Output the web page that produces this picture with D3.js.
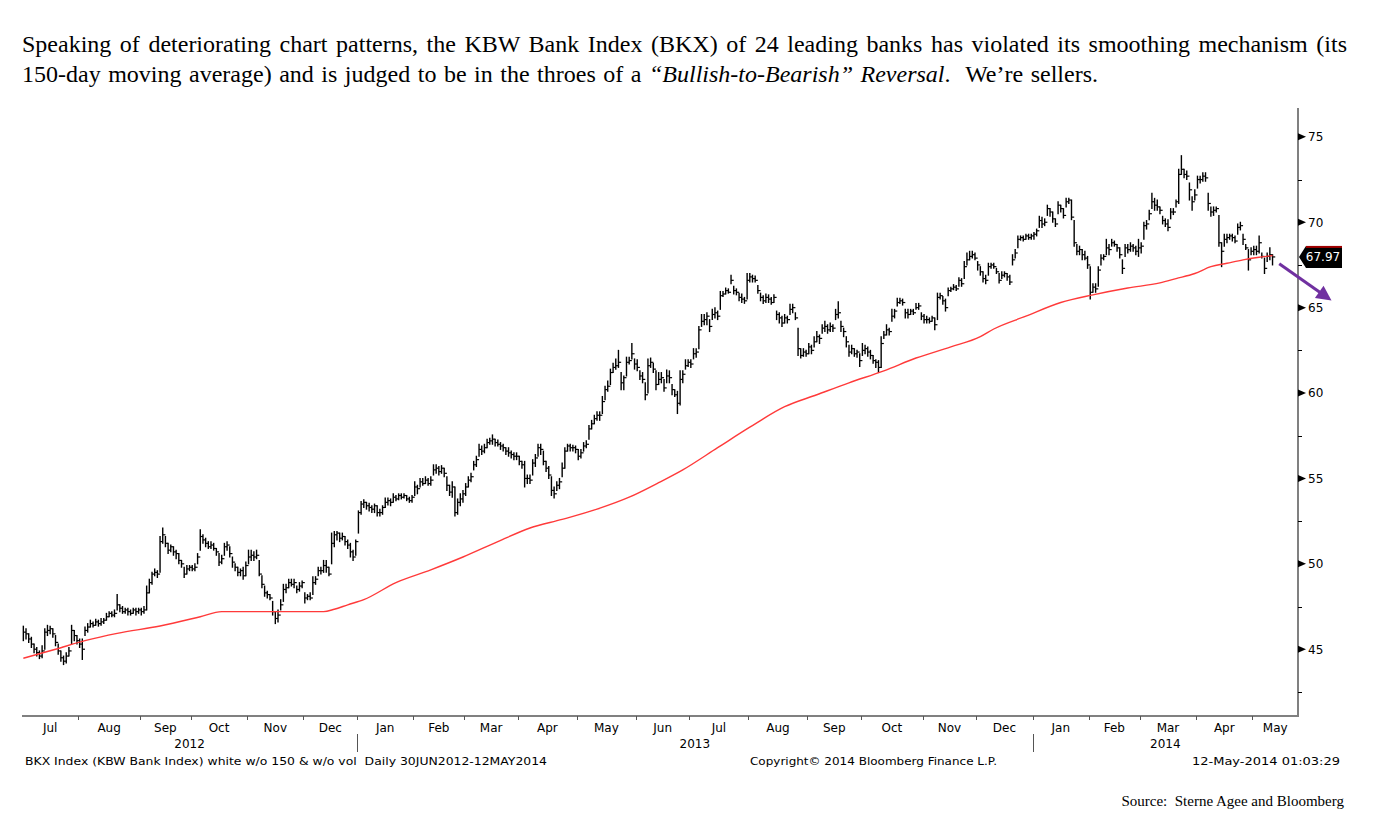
<!DOCTYPE html>
<html><head><meta charset="utf-8">
<script src="https://cdn.jsdelivr.net/npm/d3@7"></script>
<style>body{margin:0;background:#fff;} svg{display:block;} text{white-space:pre;}</style>
</head><body><svg id="c" width="1383" height="820"></svg>
<script>
// ---------- data ----------
const titleLine1 = "Speaking of deteriorating chart patterns, the KBW Bank Index (BKX) of 24 leading banks has violated its smoothing mechanism (its";
const titleLine2a = "150-day moving average) and is judged to be in the throes of a ";
const titleLine2b = "\u201cBullish-to-Bearish\u201d Reversal";
const titleLine2c = ".  We\u2019re sellers.";
const monthLabels = ["Jul","Aug","Sep","Oct","Nov","Dec","Jan","Feb","Mar","Apr","May","Jun","Jul","Aug","Sep","Oct","Nov","Dec","Jan","Feb","Mar","Apr","May"];
const monthDays = [21,23,19,21,21,20,21,19,20,22,22,20,22,22,20,23,20,21,21,19,21,21,8];
const yearLabels = ["2012","2013","2014"];
const yearMonthCounts = [6,12,5];
const yTicks = [45,50,55,60,65,70,75];
const yMinorTicks = [42.5,47.5,52.5,57.5,62.5,67.5,72.5];
const lastValue = 67.97;
const footerLeft = "BKX Index (KBW Bank Index) white w/o 150 & w/o vol  Daily 30JUN2012-12MAY2014";
const footerMid = "Copyright\u00a9 2014 Bloomberg Finance L.P.";
const footerRight = "12-May-2014 01:03:29";
const sourceText = "Source:  Sterne Agee and Bloomberg";

const closes = [
46.0,45.9,45.6,45.3,45.0,44.8,44.6,44.9,46.0,46.1,
46.2,45.9,45.4,44.9,44.5,44.3,44.6,44.9,46.1,45.8,
45.5,45.3,45.0,46.1,46.3,46.5,46.4,46.6,46.5,46.6,
46.7,46.9,47.1,47.0,47.1,47.6,47.4,47.2,47.3,47.2,
47.1,47.3,47.2,47.3,47.2,47.3,48.3,48.9,49.4,49.5,
49.4,51.3,51.7,51.2,50.8,51.0,50.7,50.6,50.2,50.0,
49.4,49.7,49.8,49.7,49.8,50.4,51.6,51.4,51.2,51.0,
51.1,50.9,50.7,50.1,50.3,51.0,51.1,50.6,50.1,49.8,
49.5,49.6,49.3,49.9,50.4,50.5,50.4,50.5,49.4,48.8,
48.3,48.2,48.0,47.2,46.8,47.0,47.6,48.5,48.6,48.9,
48.8,48.9,48.5,48.7,48.9,48.0,48.1,48.0,48.9,49.1,
49.6,49.6,49.9,49.8,49.4,51.2,51.7,51.8,51.5,51.6,
51.3,51.1,50.7,50.4,51.3,53.0,53.5,53.6,53.4,53.3,
53.2,53.4,53.0,53.0,53.3,53.6,53.7,53.6,53.9,53.8,
54.0,53.9,54.0,53.8,53.7,53.9,54.5,54.4,54.8,54.7,
54.9,54.7,54.9,55.5,55.6,55.4,55.6,55.3,54.6,54.2,
54.5,53.0,53.6,53.8,54.1,54.5,54.9,55.1,55.8,56.1,
56.7,56.6,56.8,57.1,57.2,57.3,57.1,57.0,56.9,56.8,
56.6,56.5,56.4,56.3,56.3,56.0,55.8,55.0,55.0,54.9,
55.9,56.2,56.8,56.7,56.0,55.6,55.2,54.3,54.1,54.6,
54.8,55.6,56.6,56.9,56.8,56.8,56.7,56.3,56.5,56.9,
57.0,57.9,58.2,58.5,58.7,58.7,59.5,60.2,60.4,61.2,
61.5,61.6,61.8,60.6,60.9,61.8,61.9,62.3,61.7,61.5,
61.0,60.8,59.9,61.6,61.8,61.4,60.5,60.8,60.9,60.3,
61.0,60.9,60.2,59.9,59.4,60.8,61.1,61.6,61.8,61.7,
62.3,62.4,63.7,64.2,64.3,64.5,63.9,64.6,64.7,64.5,
65.7,65.8,66.0,65.9,66.6,66.0,65.9,65.6,65.5,65.4,
66.6,66.8,66.7,66.6,66.0,65.6,65.4,65.6,65.5,65.3,
65.6,64.6,64.4,64.1,64.4,64.3,64.9,65.0,64.4,62.6,
62.2,62.4,62.3,62.7,62.5,63.0,63.3,63.2,63.8,63.9,
63.7,63.9,63.8,64.6,64.7,63.9,63.6,63.0,62.4,62.6,
62.3,62.4,61.9,62.5,62.6,62.4,62.2,61.9,61.8,61.5,
62.9,63.4,63.7,63.6,64.5,64.8,65.3,65.4,65.3,64.7,
64.6,64.8,64.7,65.0,65.1,64.5,64.3,64.3,64.2,64.4,
64.0,65.6,65.7,65.4,65.0,66.0,66.1,66.2,66.1,66.6,
66.4,67.4,67.8,68.0,68.1,67.9,67.5,67.1,66.7,66.6,
67.4,67.5,67.4,67.1,66.6,66.9,67.0,66.8,66.5,67.8,
68.2,69.0,69.1,69.0,69.2,69.1,69.2,69.3,69.5,70.1,
69.9,70.0,70.8,70.6,70.2,69.9,71.0,70.8,70.4,71.2,
71.3,70.3,68.8,68.3,68.4,68.1,67.9,67.5,65.9,66.2,
66.1,67.2,67.9,68.0,68.5,68.4,68.8,68.7,68.5,68.1,
67.3,68.5,68.4,68.6,68.5,68.3,68.5,68.6,69.8,69.9,
70.5,71.2,71.0,70.9,70.7,70.1,69.9,69.7,70.6,70.6,
71.2,72.8,73.1,72.8,72.7,71.9,71.2,71.6,72.5,72.5,
72.7,72.6,71.1,70.6,70.7,70.8,68.8,68.3,69.0,69.1,
69.2,69.1,68.9,69.7,69.8,69.0,68.5,67.8,68.3,68.4,
68.3,68.8,68.0,67.3,68.0,68.1,67.97];

const highs = [
46.35,46.2,45.9,45.7,45.3,45.1,44.9,45.2,46.2,46.4,
46.35,46.2,45.8,45.3,44.9,44.6,44.8,45.1,46.4,46.1,
45.8,45.6,45.6,46.3,46.5,46.7,46.6,46.75,46.7,46.8,
46.8,47.1,47.2,47.2,47.3,48.2,47.6,47.5,47.4,47.4,
47.3,47.4,47.4,47.4,47.4,47.5,48.7,49.1,49.5,49.7,
49.6,51.6,52.1,51.6,51.2,51.1,51.0,50.8,50.6,50.2,
49.8,49.9,49.9,49.9,50.0,50.6,52.0,51.7,51.5,51.3,
51.3,51.2,50.9,50.6,50.5,51.2,51.3,51.0,50.4,50.0,
49.8,49.7,49.8,50.1,50.8,50.8,50.7,50.8,50.2,49.3,
48.7,48.4,48.2,47.8,47.2,47.3,47.9,48.8,48.8,49.1,
49.1,49.1,48.7,48.9,49.0,48.3,48.2,48.3,49.25,49.25,
49.8,49.8,50.2,50.2,49.8,51.8,51.9,51.9,51.8,51.8,
51.6,51.4,51.2,50.8,51.4,53.1,53.65,53.75,53.6,53.55,
53.4,53.5,53.4,53.2,53.4,53.85,53.85,53.8,54.1,54.0,
54.1,54.1,54.1,54.0,53.9,54.0,54.8,54.6,55.0,55.0,
55.1,55.0,55.1,55.8,55.8,55.7,55.75,55.6,55.1,54.6,
54.8,54.5,53.8,54.1,54.3,54.7,55.1,55.3,56.0,56.3,
57.0,56.9,57.0,57.3,57.35,57.55,57.3,57.25,57.1,57.0,
56.8,56.8,56.6,56.5,56.5,56.3,56.0,56.0,55.2,55.2,
56.1,56.4,57.0,57.0,56.6,56.0,55.7,55.1,54.5,54.8,
55.0,55.9,56.8,57.0,57.0,56.95,56.9,56.7,56.7,57.1,
57.2,58.1,58.4,58.7,58.9,58.9,59.8,60.4,60.7,61.4,
61.75,62.0,62.5,61.2,61.0,62.1,62.1,62.9,62.0,61.95,
61.3,61.2,60.6,62.0,62.05,61.75,61.3,61.2,61.2,60.8,
61.35,61.3,60.5,60.2,60.1,61.3,61.3,61.95,61.95,61.95,
62.6,62.6,63.9,64.6,64.6,64.7,64.3,64.9,65.0,64.8,
65.95,65.95,66.15,66.1,66.9,66.25,66.1,65.85,65.8,65.6,
67.0,67.0,66.9,66.85,66.3,65.85,65.7,65.8,65.75,65.6,
65.75,64.8,64.7,64.5,64.6,64.5,65.2,65.2,64.7,63.8,
62.6,62.6,62.5,62.9,62.8,63.3,63.6,63.4,64.0,64.2,
64.0,64.1,64.0,64.9,65.35,64.2,63.8,63.3,62.8,62.8,
62.6,62.5,62.3,62.9,62.8,62.7,62.5,62.2,61.95,61.9,
63.3,63.6,64.0,63.8,64.9,64.9,65.55,65.55,65.5,64.9,
64.9,64.9,64.9,65.25,65.25,64.7,64.6,64.5,64.4,64.5,
64.4,65.85,65.85,65.65,65.5,66.15,66.2,66.35,66.3,66.75,
66.7,67.7,68.2,68.3,68.3,68.2,67.7,67.4,67.1,66.9,
67.6,67.6,67.6,67.3,67.0,67.1,67.1,67.0,66.9,68.1,
68.4,69.2,69.2,69.2,69.3,69.3,69.3,69.4,69.6,70.35,
70.3,70.2,71.0,70.8,70.6,70.2,71.2,71.0,70.8,71.4,
71.4,71.3,70.1,68.7,68.6,68.4,68.3,68.0,67.4,66.4,
66.4,67.4,68.1,68.1,69.0,68.7,69.0,68.9,68.7,68.5,
67.8,68.7,68.7,68.8,68.7,68.6,69.0,68.8,70.0,70.1,
70.7,71.7,71.4,71.3,70.9,70.35,70.2,70.15,70.8,70.8,
71.3,73.1,73.9,73.1,73.0,72.3,71.5,71.9,72.7,72.7,
72.9,72.9,71.7,70.9,70.9,70.9,70.4,68.8,69.3,69.3,
69.3,69.3,69.2,69.9,70.0,69.3,68.7,68.4,68.5,68.6,
68.6,69.2,68.2,67.9,68.2,68.5,68.1];

const lows = [
45.5,45.6,45.4,45.1,44.8,44.6,44.45,44.5,45.0,45.8,
45.9,45.7,45.2,44.7,44.3,44.1,44.2,44.6,45.3,45.5,
45.3,45.1,44.4,45.8,46.0,46.3,46.3,46.4,46.35,46.4,
46.5,46.7,46.9,46.9,46.9,47.3,47.2,47.1,47.1,47.0,
47.0,47.1,47.0,47.1,47.0,47.1,47.3,48.3,48.8,49.3,
49.2,49.5,51.2,51.0,50.6,50.7,50.5,50.3,50.0,49.8,
49.2,49.4,49.6,49.6,49.6,50.0,50.8,51.2,51.0,50.9,
50.9,50.8,50.5,49.9,50.0,50.5,50.8,50.4,49.8,49.6,
49.3,49.3,49.1,49.3,50.0,50.2,50.2,50.3,49.3,48.6,
48.1,48.0,47.9,47.0,46.5,46.6,47.3,47.8,48.3,48.6,
48.7,48.6,48.3,48.4,48.6,47.7,47.9,47.9,48.2,48.8,
49.3,49.4,49.5,49.5,49.3,50.0,51.0,51.4,51.3,51.4,
51.1,50.9,50.4,50.2,50.5,51.8,52.9,53.3,53.2,53.1,
53.0,53.0,52.8,52.8,52.9,53.3,53.45,53.4,53.6,53.7,
53.75,53.8,53.85,53.7,53.6,53.6,54.0,54.1,54.5,54.6,
54.7,54.6,54.6,55.2,55.3,55.2,55.3,55.1,54.3,54.0,
53.9,52.8,52.9,53.4,53.6,54.0,54.5,54.8,55.5,55.7,
56.3,56.4,56.5,56.8,57.0,57.0,56.9,56.9,56.7,56.6,
56.4,56.3,56.2,56.1,56.1,55.8,55.6,54.5,54.7,54.7,
55.2,55.7,56.3,56.4,55.8,55.4,55.0,54.0,53.85,54.3,
54.4,55.1,55.6,56.6,56.6,56.6,56.5,56.1,56.2,56.6,
56.8,57.3,57.9,58.2,58.4,58.4,58.8,59.6,60.1,60.5,
61.2,61.4,61.5,60.2,60.2,61.0,61.7,62.0,61.4,61.3,
60.8,60.6,59.6,60.0,61.5,61.2,60.2,60.5,60.6,60.1,
60.6,60.6,59.9,59.8,58.8,59.3,60.6,61.4,61.55,61.5,
62.0,62.1,62.6,63.9,64.0,64.0,63.6,64.3,64.4,64.3,
64.9,65.65,65.8,65.85,66.4,65.8,65.75,65.4,65.3,65.25,
65.5,66.5,66.5,66.5,65.85,65.4,65.25,65.3,65.3,65.2,
65.3,64.3,64.1,63.9,64.1,64.1,64.6,64.7,64.3,62.2,
62.05,62.15,62.15,62.3,62.3,62.7,63.0,62.9,63.5,63.6,
63.5,63.6,63.6,64.3,64.4,63.6,63.3,62.7,62.15,62.3,
62.15,62.1,61.55,62.2,62.3,62.15,62.0,61.75,61.5,61.2,
61.5,63.2,63.4,63.4,64.2,64.4,65.1,65.25,65.15,64.4,
64.4,64.6,64.6,64.9,64.9,64.3,64.1,64.1,64.1,64.2,
63.7,64.3,65.5,65.2,64.8,65.7,65.95,66.05,66.0,66.25,
66.25,66.7,67.5,67.8,67.9,67.8,67.2,66.9,66.5,66.4,
66.9,67.3,67.3,67.0,66.45,66.7,66.8,66.6,66.35,67.5,
67.9,68.5,68.95,68.9,69.0,69.0,69.0,69.0,69.2,69.7,
69.7,69.8,70.4,70.35,70.0,69.75,70.5,70.6,70.25,70.9,
71.1,70.15,68.6,68.1,68.1,67.8,67.8,67.3,65.5,65.9,
65.9,66.25,67.5,67.8,68.1,68.1,68.6,68.6,68.3,67.9,
67.0,68.0,68.2,68.3,68.3,68.1,68.0,68.2,69.0,69.6,
70.15,70.8,70.7,70.7,70.5,69.9,69.75,69.5,70.2,70.45,
70.9,71.1,72.8,72.6,72.5,71.3,70.7,71.3,72.0,72.3,
72.4,72.4,70.7,70.35,70.4,70.6,68.6,67.4,68.6,68.8,
69.0,68.9,68.8,69.3,69.55,68.7,68.4,67.2,68.1,68.1,
68.1,68.2,67.9,67.0,67.7,67.8,67.5];

// 150-day moving average, read at selected trading-day indices
const maIdx = [0,12,23,35,51,66,74,112,116,121,127,139,152,164,177,189,201,214,226,237,246,259,271,284,296,308,321,333,346,357,362,374,387,399,412,424,430,437,443,449,455,461,466];
const maVal = [44.47,45.0,45.5,45.93,46.36,46.9,47.2,47.2,47.34,47.6,47.9,48.9,49.65,50.4,51.3,52.1,52.6,53.2,53.9,54.75,55.5,56.8,58.0,59.2,59.9,60.6,61.3,62.05,62.7,63.3,63.75,64.5,65.3,65.75,66.15,66.45,66.7,67.0,67.4,67.6,67.8,67.95,68.05];

// ---------- chart ----------
const svg = d3.select("#c");
const plot = {left: 22, right: 1298, top: 108, bottom: 716};
const nSlots = 476;
const x = d3.scaleLinear().domain([-0.5, nSlots - 0.5]).range([plot.left, plot.right]);
const y = d3.scaleLinear().domain([41.09, 76.69]).range([plot.bottom, plot.top]);

// title (justified first line via word spacing)
const serif = "'Liberation Serif','Times New Roman',Times,serif";
function justify(sel, target) {
  const len = sel.node().getComputedTextLength();
  const str = sel.text();
  const spaces = (str.match(/ /g) || []).length;
  if (spaces > 0) {
    const ws = (target - len) / spaces;
    sel.attr("word-spacing", ws);
    sel.selectAll("tspan").attr("word-spacing", ws);
  }
}
const t1 = svg.append("text").attr("x", 22).attr("y", 52)
  .attr("font-family", serif).attr("font-size", 24).attr("fill", "#000")
  .text(titleLine1);
justify(t1, 1325);
const t2 = svg.append("text").attr("x", 22).attr("y", 82)
  .attr("font-family", serif).attr("font-size", 24).attr("fill", "#000");
t2.append("tspan").text(titleLine2a);
t2.append("tspan").attr("font-style", "italic").text(titleLine2b);
t2.append("tspan").text(titleLine2c);
justify(t2, 1076);

// OHLC bars (high-low line + close tick)
const n = Math.min(closes.length, highs.length, lows.length);
const idx = d3.range(n);
const snap = v => Math.round(v) + 0.5;
const bars = svg.append("g").attr("stroke", "#000");
bars.selectAll("line.hl").data(idx).join("line").attr("class", "hl")
  .attr("stroke-width", 1.4)
  .attr("x1", i => x(i)).attr("x2", i => x(i))
  .attr("y1", i => y(highs[i]) - 0.5).attr("y2", i => y(lows[i]) + 0.5);
bars.selectAll("line.cl").data(idx).join("line").attr("class", "cl")
  .attr("stroke-width", 1.2)
  .attr("x1", i => x(i)).attr("x2", i => x(i) + 2.7)
  .attr("y1", i => y(closes[i])).attr("y2", i => y(closes[i]));

// moving average
const maPts = maIdx.map((d, k) => [d, maVal[k]]);
svg.append("path").datum(maPts)
  .attr("fill", "none").attr("stroke", "#ff3a3a").attr("stroke-width", 1.4)
  .attr("d", d3.line().x(d => x(d[0])).y(d => y(d[1])).curve(d3.curveMonotoneX));

// right axis
const axisFont = "'DejaVu Sans',Verdana,sans-serif";
svg.append("line").attr("x1", plot.right).attr("x2", plot.right).attr("y1", plot.top).attr("y2", plot.bottom + 1)
  .attr("stroke", "#808080").attr("stroke-width", 2);
svg.append("g").selectAll("path").data(yTicks).join("path")
  .attr("d", v => `M${plot.right},${y(v) - 3.5}L${plot.right + 8},${y(v)}L${plot.right},${y(v) + 3.5}Z`)
  .attr("fill", "#000");
svg.append("g").selectAll("line").data(yMinorTicks).join("line")
  .attr("x1", plot.right).attr("x2", plot.right + 4)
  .attr("y1", v => snap(y(v))).attr("y2", v => snap(y(v)))
  .attr("stroke", "#000").attr("stroke-width", 1).attr("shape-rendering", "crispEdges");
svg.append("g").selectAll("text").data(yTicks).join("text")
  .attr("x", plot.right + 10).attr("y", v => y(v)).attr("dy", "0.36em")
  .attr("font-family", axisFont).attr("font-size", 12).attr("fill", "#000")
  .text(v => v);

// last value label
const ly = y(lastValue);
const lab = svg.append("g");
lab.append("path")
  .attr("d", `M${plot.right + 1},${ly}L${plot.right + 8},${ly - 11}L${plot.right + 44},${ly - 11}L${plot.right + 44},${ly + 11}L${plot.right + 8},${ly + 11}Z`)
  .attr("fill", "#000");
lab.append("rect").attr("x", plot.right + 8).attr("y", ly - 11).attr("width", 36).attr("height", 2).attr("fill", "#a00000");
lab.append("text").attr("x", plot.right + 25).attr("y", ly).attr("dy", "0.37em").attr("text-anchor", "middle")
  .attr("font-family", axisFont).attr("font-size", 12).attr("fill", "#fff").text(lastValue.toFixed(2));

// arrow annotation
const a0 = [x(468.5), y(67.57)], a1 = [x(488), y(65.42)];
const dx = a1[0] - a0[0], dy = a1[1] - a0[1], L = Math.hypot(dx, dy), ux = dx / L, uy = dy / L;
const hl = 15, hw = 7.5;
const base = [a1[0] - ux * hl, a1[1] - uy * hl];
svg.append("line").attr("x1", a0[0]).attr("y1", a0[1]).attr("x2", base[0] + ux * 2).attr("y2", base[1] + uy * 2)
  .attr("stroke", "#7030a0").attr("stroke-width", 3);
svg.append("path")
  .attr("d", `M${a1[0]},${a1[1]}L${base[0] - uy * hw},${base[1] + ux * hw}L${base[0] + uy * hw},${base[1] - ux * hw}Z`)
  .attr("fill", "#7030a0");

// bottom axis
svg.append("line").attr("x1", plot.left).attr("x2", plot.right).attr("y1", plot.bottom).attr("y2", plot.bottom)
  .attr("stroke", "#808080").attr("stroke-width", 2);
const bounds = [];
let acc = 0;
monthDays.forEach((d, k) => { const s = acc; acc += d; bounds.push([s - 0.5, k === monthDays.length - 1 ? nSlots - 0.5 : acc - 0.5]); });
svg.append("g").selectAll("line").data(bounds.slice(1)).join("line")
  .attr("x1", b => snap(x(b[0]))).attr("x2", b => snap(x(b[0])))
  .attr("y1", plot.bottom).attr("y2", plot.bottom + 4)
  .attr("stroke", "#555").attr("stroke-width", 1).attr("shape-rendering", "crispEdges");
svg.append("g").selectAll("text").data(bounds).join("text")
  .attr("x", b => x((b[0] + b[1]) / 2)).attr("y", 732).attr("text-anchor", "middle")
  .attr("font-family", axisFont).attr("font-size", 12).attr("fill", "#000")
  .text((b, k) => monthLabels[k]);
let mAcc = 0;
const yearBounds = yearMonthCounts.map(c => { const s = mAcc; mAcc += c; return [bounds[s][0], bounds[mAcc - 1][1]]; });
svg.append("g").selectAll("text").data(yearBounds).join("text")
  .attr("x", b => x((b[0] + b[1]) / 2)).attr("y", 748).attr("text-anchor", "middle")
  .attr("font-family", axisFont).attr("font-size", 12).attr("fill", "#000")
  .text((b, k) => yearLabels[k]);
svg.append("g").selectAll("line").data(yearBounds.slice(1)).join("line")
  .attr("x1", b => snap(x(b[0]))).attr("x2", b => snap(x(b[0])))
  .attr("y1", 734).attr("y2", 752)
  .attr("stroke", "#555").attr("stroke-width", 1).attr("shape-rendering", "crispEdges");

// footer
const fFont = "'DejaVu Sans',Verdana,sans-serif";
svg.append("text").attr("x", 25).attr("y", 765).attr("font-family", fFont).attr("font-size", 11)
  .attr("textLength", 522).attr("lengthAdjust", "spacingAndGlyphs").text(footerLeft);
svg.append("text").attr("x", 750).attr("y", 765).attr("font-family", fFont).attr("font-size", 11)
  .attr("textLength", 247).attr("lengthAdjust", "spacingAndGlyphs").text(footerMid);
svg.append("text").attr("x", 1192).attr("y", 765).attr("font-family", fFont).attr("font-size", 11)
  .attr("textLength", 148).attr("lengthAdjust", "spacingAndGlyphs").text(footerRight);
svg.append("text").attr("x", 1344).attr("y", 806).attr("text-anchor", "end")
  .attr("font-family", serif).attr("font-size", 15).text(sourceText);
</script>
</body></html>
